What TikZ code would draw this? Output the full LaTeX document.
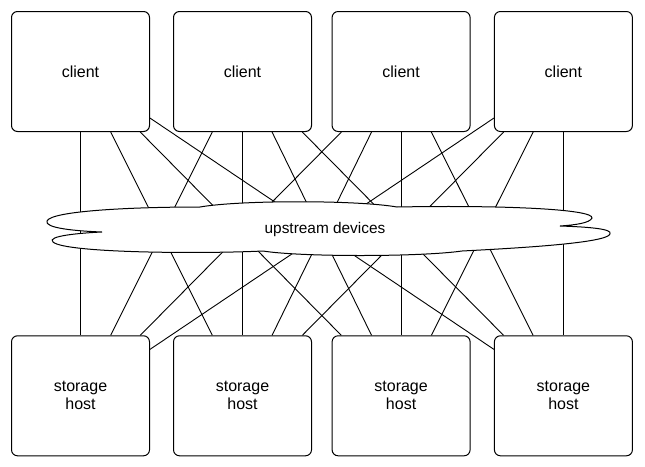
\documentclass[tikz,border=0pt]{standalone}
\usepackage{fontspec}
\setmainfont{Liberation Sans}
\usetikzlibrary{positioning}

\begin{document}
\begin{tikzpicture}[x=1pt,y=-1pt]
		\tikzset{node distance=203.3pt and 23pt,
			box/.style={rectangle, draw, rounded corners=6pt, fill=white, align=center,
			minimum width=138pt, minimum height=120pt, inner sep=0pt, line width=1pt,
			font=\fontsize{16}{18}\selectfont},
			link/.style={line width=0.9pt},
			cloudshape/.style={draw, fill=white, line width=1pt},
		}
		\useasboundingbox (0,0) rectangle (645,466);

		\node[box](c1) at (80.5,71.5){client};
		\node[box, right=of c1](c2){client};
		\node[box, right=19.6pt of c2](c3){client};
		\node[box, right=23.3pt of c3](c4){client};

		\node[box, below=of c1](h1){storage\\host};
		\node[box, below=of c2](h2){storage\\host};
		\node[box, below=of c3](h3){storage\\host};
		\node[box, below=of c4](h4){storage\\host};

		\foreach \i in {1,...,4}
			\foreach \j in {1,...,4}
				\draw[link](c\i) -- (h\j);

		% cloud over the links
		\path[cloudshape] (200,207) .. controls (240,200) and (357,200) .. (397,207)
			.. controls (500,205) and (594,209) .. (592,218)
			.. controls (590,223) and (575,225) .. (560,226)
			.. controls (590,227) and (613,229) .. (610,234)
			.. controls (607,243) and (520,248) .. (462,251)
			.. controls (420,257) and (300,257) .. (263,251)
			.. controls (200,254) and (65,253) .. (53,242)
			.. controls (46,236) and (80,233) .. (102,232)
			.. controls (75,231) and (44,228) .. (47,221)
			.. controls (51,211) and (130,207) .. (200,207) -- cycle;
		\node[font=\fontsize{15.4}{18}\selectfont](up) at (325,230){upstream devices};

	\end{tikzpicture}
\end{document}
